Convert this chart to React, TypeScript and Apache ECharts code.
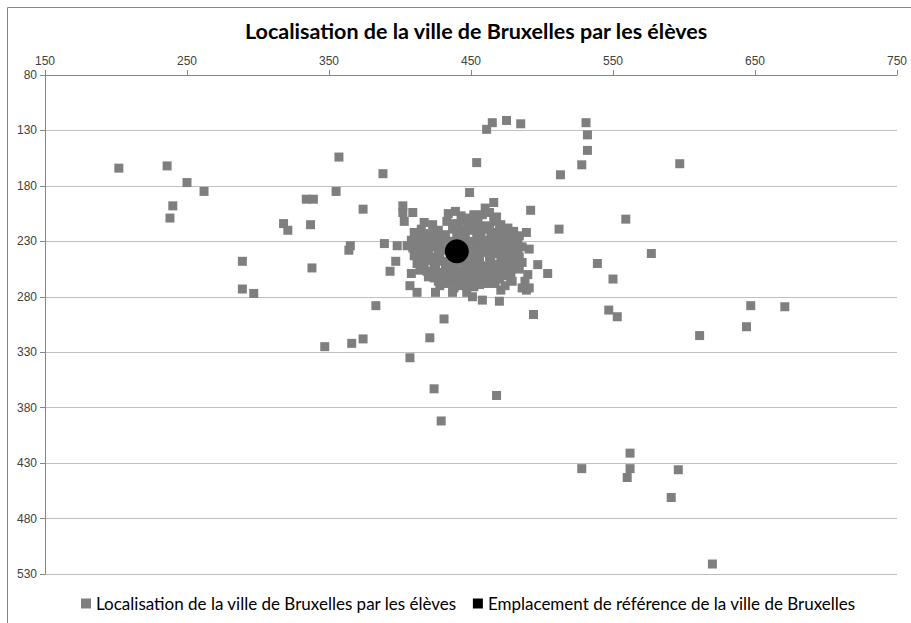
import React, { useEffect, useRef } from "react";
import * as echarts from "echarts";

const TITLE = "Localisation de la ville de Bruxelles par les élèves";
const SERIES_NAMES = [
  "Localisation de la ville de Bruxelles par les élèves",
  "Emplacement de référence de la ville de Bruxelles",
];
const X_TICKS = [150, 250, 350, 450, 550, 650, 750];
const Y_TICKS = [80, 130, 180, 230, 280, 330, 380, 430, 480, 530];

// Outlying student guesses [x, y]
const outliers: number[][] = [
  [202, 164], [236, 162], [250, 177], [240, 198], [238, 209], [262, 185],
  [334, 192], [339, 192], [318, 214], [321, 220], [337, 215], [289, 248],
  [338, 254], [289, 273], [297, 277],
  [357, 154], [388, 169], [355, 185], [374, 201], [365, 234], [364, 238],
  [389, 232], [398, 234], [405, 234], [411, 241], [397, 248], [393, 257],
  [408, 259], [407, 270], [412, 276], [383, 288], [347, 325], [366, 322],
  [374, 318], [407, 335], [421, 317],
  [402, 198], [402, 204], [409, 204], [403, 212],
  [431, 300], [424, 363], [468, 369], [429, 392], [494, 296],
  [425, 276], [437, 276], [447, 276], [451, 280], [458, 283], [470, 284],
  [471, 274], [489, 274],
  [465, 123], [461, 129], [475, 121], [485, 124], [531, 123], [532, 134],
  [532, 148], [528, 161], [513, 170], [597, 160], [454, 159], [449, 186],
  [492, 202], [466, 195],
  [559, 210], [512, 219], [489, 222], [481, 227], [480, 230], [491, 237],
  [577, 241], [497, 251], [539, 250], [504, 259], [550, 264], [490, 260],
  [488, 266], [491, 272], [486, 272], [547, 292], [553, 298], [647, 288],
  [671, 289], [644, 307], [611, 315],
  [562, 421], [528, 435], [562, 435], [560, 443], [596, 436], [591, 461],
  [620, 521],
];

// Dense cluster of student guesses around the reference point [x, y]
const cluster: number[][] = [
  [434, 205], [439, 203], [443, 207], [452, 206], [460, 200], [458, 206], [463, 204], [468, 208], [447, 209],
  [417, 213], [423, 215], [433, 212], [438, 214], [444, 211], [455, 213], [460, 216], [466, 212], [471, 215], [448, 216],
  [410, 222], [415, 219], [421, 223], [427, 220], [432, 224], [437, 219], [443, 222], [449, 220], [454, 223],
  [459, 219], [464, 222], [470, 220], [475, 224], [480, 221], [484, 225],
  [408, 229], [413, 227], [419, 231], [424, 228], [429, 226], [435, 230], [446, 227], [452, 230], [457, 226],
  [462, 229], [467, 227], [473, 230], [478, 228], [483, 231],
  [409, 236], [414, 233], [420, 237], [426, 234], [452, 236], [457, 233], [462, 237], [468, 234], [473, 236],
  [479, 233], [483, 238], [448, 234],
  [410, 243], [416, 240], [421, 244], [427, 241], [452, 243], [458, 240], [463, 244], [469, 241], [474, 245],
  [480, 242], [484, 244], [449, 241],
  [412, 250], [418, 247], [424, 251], [430, 248], [436, 252], [442, 249], [447, 251], [453, 248], [459, 252],
  [464, 249], [470, 251], [476, 248], [481, 250],
  [419, 257], [425, 254], [431, 258], [437, 255], [443, 257], [449, 254], [455, 258], [461, 255], [466, 258],
  [472, 254], [478, 257], [484, 255],
  [424, 263], [430, 261], [436, 265], [441, 262], [447, 264], [453, 261], [458, 265], [464, 262], [470, 264],
  [476, 261],
  [428, 270], [440, 269], [452, 271], [462, 268], [474, 270], [447, 268],
  [415, 226], [422, 235], [428, 245], [433, 238], [446, 245], [450, 238], [456, 246], [461, 233], [466, 240],
  [471, 247], [477, 238], [482, 247], [417, 253], [423, 247], [428, 236], [413, 246], [439, 259], [445, 261],
  [451, 265], [457, 255], [463, 259], [469, 257], [475, 252], [480, 254], [427, 266], [433, 268], [438, 272],
  [456, 269], [467, 268], [479, 266], [486, 249], [486, 235], [411, 232], [418, 225], [426, 224], [440, 226],
  [456, 221], [463, 217], [469, 225], [476, 218], [441, 216], [451, 212], [472, 241], [478, 263], [444, 270],
  [432, 252], [425, 258],
  [434, 261], [455, 251], [460, 262], [466, 252], [472, 260], [478, 245], [474, 233], [467, 231], [458, 230],
  [453, 218], [445, 219], [429, 231], [419, 241], [414, 256], [420, 262], [448, 258], [436, 244], [444, 233],
];

const reference: number[][] = [[440, 239]];

export default function App() {
  const ref = useRef<HTMLDivElement>(null);
  useEffect(() => {
    if (!ref.current) return;
    const chart = echarts.init(ref.current, null, { renderer: "svg" });
    const tickFont = { fontFamily: "Liberation Sans Narrow, Liberation Sans, sans-serif", fontSize: 12, color: "#404040" };
    chart.setOption({
      animation: false,
      backgroundColor: "#ffffff",
      title: {
        text: TITLE,
        left: 240,
        top: 15,
        textStyle: { fontFamily: "Lato, sans-serif", fontWeight: "bold", fontSize: 21.5, color: "#000" },
      },
      grid: { left: 45, right: 14, top: 75, bottom: 49 },
      legend: {
        bottom: 6,
        left: 76,
        icon: "rect",
        itemWidth: 10,
        itemHeight: 10,
        itemGap: 16,
        textStyle: { fontFamily: "Lato, sans-serif", fontSize: 17, color: "#000" },
        data: SERIES_NAMES,
      },
      xAxis: {
        type: "value",
        position: "top",
        min: X_TICKS[0],
        max: X_TICKS[X_TICKS.length - 1],
        interval: 100,
        axisLine: { show: true, lineStyle: { color: "#868686", width: 1 } },
        axisTick: { show: true, length: 5, lineStyle: { color: "#868686" } },
        axisLabel: { ...tickFont, margin: 8 },
        splitLine: { show: false },
      },
      yAxis: {
        type: "value",
        inverse: true,
        min: Y_TICKS[0],
        max: Y_TICKS[Y_TICKS.length - 1],
        interval: 50,
        axisLine: { show: true, lineStyle: { color: "#868686", width: 1 } },
        axisTick: { show: true, length: 5, lineStyle: { color: "#868686" } },
        axisLabel: { ...tickFont, margin: 8 },
        splitLine: { show: true, lineStyle: { color: "#BFBFBF", width: 1 } },
      },
      series: [
        {
          name: SERIES_NAMES[0],
          type: "scatter",
          symbol: "rect",
          symbolSize: 9,
          itemStyle: { color: "#7F7F7F", opacity: 1 },
          data: [...outliers, ...cluster],
        },
        {
          name: SERIES_NAMES[1],
          type: "scatter",
          symbol: "circle",
          symbolSize: 24,
          itemStyle: { color: "#000000", opacity: 1 },
          data: reference,
        },
      ],
      graphic: [
        {
          type: "rect",
          shape: { x: 7.5, y: 7.5, width: 920, height: 640 },
          style: { fill: "none", stroke: "#868686", lineWidth: 1 },
          silent: true,
        },
      ],
    });
    return () => chart.dispose();
  }, []);
  return (
    <div
      ref={ref}
      style={{ position: "absolute", left: 0, top: 0, width: 911, height: 623 }}
    />
  );
}
